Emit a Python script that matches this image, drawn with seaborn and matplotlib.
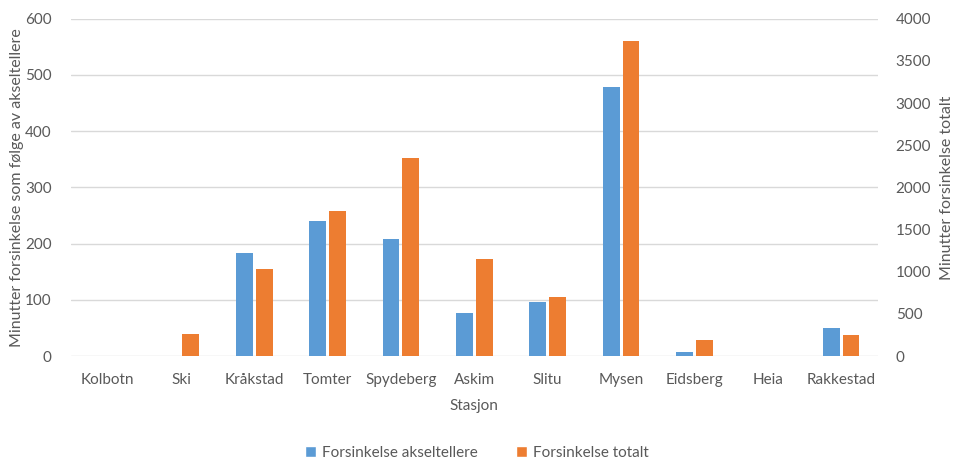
import matplotlib
matplotlib.use("Agg")
import matplotlib.pyplot as plt
import seaborn as sns
import pandas as pd
from matplotlib.patches import Patch

stations = ["Kolbotn", "Ski", "Kråkstad", "Tomter", "Spydeberg", "Askim",
            "Slitu", "Mysen", "Eidsberg", "Heia", "Rakkestad"]
axle_counter = [0, 0, 184, 240, 209, 76, 96, 478, 8, 0, 49]
total_delay = [0, 260, 1030, 1715, 2350, 1145, 695, 3740, 190, 0, 245]
left_ticks = [0, 100, 200, 300, 400, 500, 600]
right_ticks = [0, 500, 1000, 1500, 2000, 2500, 3000, 3500, 4000]

s1 = "Forsinkelse akseltellere"
s2 = "Forsinkelse totalt"
blue = "#5B9BD5"
orange = "#ED7D31"
grey_txt = "#595959"
grid_c = "#D9D9D9"

sns.set_theme(style="white")
plt.rcParams["font.family"] = ["Lato", "DejaVu Sans"]

df1 = pd.DataFrame({"Stasjon": stations, "val": axle_counter, "serie": s1})
df2 = pd.DataFrame({"Stasjon": stations, "val": total_delay, "serie": s2})

fig, ax1 = plt.subplots(figsize=(9.54, 4.62), dpi=100)
fig.subplots_adjust(left=0.0744, right=0.920, top=0.9595, bottom=0.2294)
ax2 = ax1.twinx()

pal = {s1: blue, s2: orange}
common = dict(x="Stasjon", y="val", hue="serie", hue_order=[s1, s2],
              order=stations, palette=pal, width=0.545, gap=0.15,
              linewidth=0, legend=False, errorbar=None, dodge=True,
              saturation=1)
sns.barplot(data=df1, ax=ax1, **common)
sns.barplot(data=df2, ax=ax2, **common)

ax1.set_ylim(0, 600)
ax2.set_ylim(0, 4000)
ax1.set_yticks(left_ticks)
ax2.set_yticks(right_ticks)
ax1.set_xlim(-0.5, len(stations) - 0.5)

ax1.set_zorder(ax2.get_zorder() - 1)
ax1.patch.set_visible(True)
ax1.patch.set_facecolor("white")
ax2.patch.set_visible(False)

for a in (ax1, ax2):
    for sp in a.spines.values():
        sp.set_visible(False)
    a.tick_params(length=0, colors=grey_txt, labelsize=11)

ax1.yaxis.grid(True, color=grid_c, linewidth=1.0)
ax1.set_axisbelow(True)
ax1.tick_params(axis="y", pad=14)
ax2.tick_params(axis="y", pad=13)
ax1.tick_params(axis="x", pad=12)

ax1.set_xlabel("Stasjon", color=grey_txt, fontsize=11, labelpad=9)
ax1.set_ylabel("Minutter forsinkelse som følge av akseltellere",
               color=grey_txt, fontsize=11.5, labelpad=1)
ax2.set_ylabel("Minutter forsinkelse totalt", color=grey_txt, fontsize=11.5,
               labelpad=6)
ax2.set_xlabel("")

handles = [Patch(facecolor=blue, label=s1), Patch(facecolor=orange, label=s2)]
fig.legend(handles=handles, loc="center", bbox_to_anchor=(0.5, 0.02),
           ncol=2, frameon=False, fontsize=11, handlelength=0.7,
           handleheight=0.7, columnspacing=2.5, handletextpad=0.4,
           labelcolor=grey_txt)

fig.savefig("out.png", dpi=100)
